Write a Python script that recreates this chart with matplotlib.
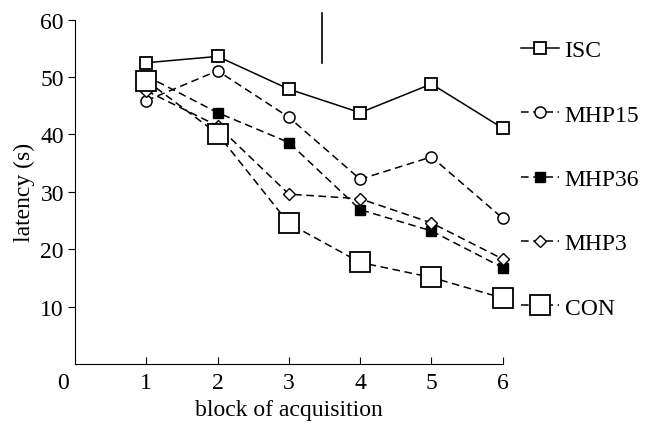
import matplotlib
matplotlib.use("Agg")
import matplotlib.pyplot as plt
import matplotlib.transforms as mtransforms

plt.rcParams['font.family'] = ['Liberation Serif', 'DejaVu Serif']

blocks = [1, 2, 3, 4, 5, 6]
isc = [52.5, 53.6, 47.9, 43.8, 48.8, 41.1]
mhp15 = [45.9, 51.1, 43.0, 32.2, 36.1, 25.4]
mhp36 = [50.2, 43.8, 38.6, 26.9, 23.2, 16.8]
mhp3 = [47.6, 41.5, 29.6, 28.8, 24.6, 18.3]
con = [49.4, 40.1, 24.5, 17.7, 15.1, 11.5]
labels = ["ISC", "MHP15", "MHP36", "MHP3", "CON"]
xticks = [0, 1, 2, 3, 4, 5, 6]
yticks = [10, 20, 30, 40, 50, 60]
marker_line_x = 3.46
marker_line_y = (52.5, 61.2)

FS = 17
fig = plt.figure(figsize=(6.47, 4.31), dpi=100)
ax = fig.add_axes([0.116, 0.153, 0.661, 0.799])

dash = (0, (5, 3))
lw = 1.1
ax.plot(blocks, isc, '-', color='black', lw=lw, marker='s', ms=8,
        mfc='white', mec='black', mew=1.3, clip_on=False, label=labels[0])
ax.plot(blocks, mhp15, color='black', lw=lw, ls=dash, marker='o', ms=8,
        mfc='white', mec='black', mew=1.1, clip_on=False, label=labels[1])
ax.plot(blocks, mhp36, color='black', lw=lw, ls=dash, marker='s', ms=7,
        mfc='black', mec='black', mew=1.0, clip_on=False, label=labels[2])
ax.plot(blocks, mhp3, color='black', lw=lw, ls=dash, marker='D', ms=6,
        mfc='white', mec='black', mew=1.0, clip_on=False, label=labels[3])
ax.plot(blocks, con, color='black', lw=lw, ls=dash, marker='s', ms=15,
        mfc='white', mec='black', mew=1.3, clip_on=False, label=labels[4])

ax.plot([marker_line_x, marker_line_x], list(marker_line_y), '-', color='black',
        lw=1.2, clip_on=False)

ax.set_xlim(0, 6)
ax.set_ylim(0, 60)
ax.spines['top'].set_visible(False)
ax.spines['right'].set_visible(False)
ax.set_xticks(xticks)
ax.set_xticklabels([str(v) for v in xticks])
ax.set_yticks(yticks)
ax.set_yticklabels([str(v) for v in yticks])
ax.tick_params(axis='x', direction='in', length=5, labelsize=FS, pad=6)
ax.tick_params(axis='y', direction='out', length=5, labelsize=FS, pad=3)
xt = ax.xaxis.get_major_ticks()
xt[0].tick1line.set_visible(False)
lab0 = ax.get_xticklabels()[0]
lab0.set_transform(lab0.get_transform() + mtransforms.ScaledTranslation(-12/100, 0, fig.dpi_scale_trans))

ax.set_xlabel("block of acquisition", fontsize=FS, labelpad=4)
ax.set_ylabel("latency (s)", fontsize=FS, labelpad=4)

leg = ax.legend(loc='upper left', bbox_to_anchor=(0.805, 0.905),
                bbox_transform=fig.transFigure, frameon=False, fontsize=FS,
                labelspacing=1.81, handlelength=1.6, handletextpad=0.25,
                borderpad=0, borderaxespad=0)

fig.savefig("out.png", dpi=100)
